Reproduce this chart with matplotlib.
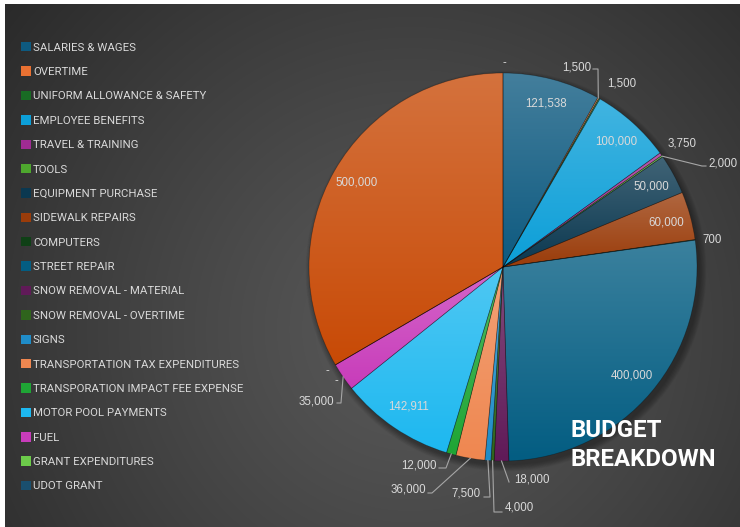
import numpy as np
import matplotlib.pyplot as plt
from matplotlib.colors import to_rgb
from matplotlib.patches import Circle

W, H = 740, 527

categories = ['SALARIES & WAGES', 'OVERTIME', 'UNIFORM ALLOWANCE & SAFETY',
              'EMPLOYEE BENEFITS', 'TRAVEL & TRAINING', 'TOOLS',
              'EQUIPMENT PURCHASE', 'SIDEWALK REPAIRS', 'COMPUTERS',
              'STREET REPAIR', 'SNOW REMOVAL - MATERIAL', 'SNOW REMOVAL - OVERTIME',
              'SIGNS', 'TRANSPORTATION TAX EXPENDITURES',
              'TRANSPORATION IMPACT FEE EXPENSE', 'MOTOR POOL PAYMENTS', 'FUEL',
              'GRANT EXPENDITURES', 'UDOT GRANT']
amounts = [121538, 1500, 1500, 100000, 3750, 2000, 50000, 60000, 700,
           400000, 18000, 4000, 7500, 36000, 12000, 142911, 35000, 0, 0]
# last two budget rows, not listed in the legend box
extra_amounts = [500000, 0]

slice_colors = ['#0E5A80', '#E97132', '#196B24', '#0C9FD8', '#A02B93', '#4EA72E',
                '#0B3850', '#9A3C0A', '#0F4016', '#035D82', '#601A58', '#2F641C',
                '#1F8CC8', '#EF8750', '#1FA535', '#1DB8F0', '#C83CBA', '#6CCB4A',
                '#1A4F6E', '#C84A06', '#C84A06']

values = amounts + extra_amounts
cx, cy, R = 503, H - 267, 194

fig = plt.figure(figsize=(7.4, 5.27), dpi=100)
fig.patch.set_facecolor('white')
ax = fig.add_axes([0, 0, 1, 1])

# dark radial backdrop
gx, gy = np.meshgrid(np.arange(5, W), np.arange(0, H - 4))
d = np.clip(np.hypot(gx - 410, gy - (H - 330)) / 520, 0, 1) ** 1.2
shade = (88 - 46 * d) / 255
ax.imshow(np.dstack([shade] * 3), extent=(5, W, 0, H - 4), origin='lower',
          zorder=0, interpolation='bilinear')

# soft shadow under the pie
for k in range(10):
    ax.add_patch(Circle((cx + 3, cy - 4), R + k * 0.7, color='black',
                        alpha=0.035, lw=0, zorder=1))

wedges, _ = ax.pie(values, startangle=90, counterclock=False, center=(cx, cy),
                   radius=R, colors=slice_colors,
                   wedgeprops=dict(edgecolor=(0, 0, 0, 0.3), linewidth=0.5))

leg = ax.legend(wedges[:len(categories)], categories, loc='upper left',
                bbox_to_anchor=(21 / W, 1 - 42 / H), bbox_transform=fig.transFigure,
                frameon=False, prop={'family': 'Roboto', 'size': 8.2},
                labelcolor='#D9D9D9', handlelength=0.9, handleheight=0.9,
                handletextpad=0.15, labelspacing=1.205, borderpad=0, borderaxespad=0)
for h in leg.legend_handles:
    h.set_edgecolor('none')

# vertical gradient inside every slice
t = np.linspace(0, 1, 64)[:, None]
for w, col, v in zip(wedges, slice_colors, values):
    w.set_zorder(3)
    if v == 0:
        continue
    base = np.array(to_rgb(col))
    grad = base * (1 - 0.22 * t[..., None]) + 0.22 * t[..., None]
    grad = np.repeat(grad, 2, axis=1)
    ext = w.get_path().get_extents()
    im = ax.imshow(grad, extent=(ext.x0, ext.x1, ext.y0, ext.y1), origin='lower',
                   aspect='auto', interpolation='bilinear', zorder=2)
    im.set_clip_path(w)
    w.set_facecolor('none')


def label_text(v):
    return '-' if v == 0 else f'{v:,}'


lab_font = {'family': 'Liberation Sans', 'size': 8.3, 'color': '#D9D9D9'}
inside = [0, 3, 6, 7, 9, 15, 19]
for i in inside:
    w = wedges[i]
    a = np.deg2rad((w.theta1 + w.theta2) / 2)
    ax.text(cx + 0.87 * R * np.cos(a), cy + 0.87 * R * np.sin(a), label_text(values[i]),
            ha='center', va='center', zorder=5, **lab_font)

# outside labels: text anchor (px from top), alignment, leader bends
outside = {
    1: (591, 68, 'right', [(598, 69), (593, 69)]),
    2: (622, 84, 'center', []),
    4: (682, 143, 'center', []),
    5: (708, 164, 'left', [(702, 166), (706, 166)]),
    8: (712, 240, 'center', []),
    10: (514, 479, 'left', [(509, 482)]),
    11: (505, 507, 'left', [(494, 512), (502, 512)]),
    12: (481, 493, 'right', [(490, 497), (484, 497)]),
    13: (426, 489, 'right', [(432, 493), (428, 493)]),
    14: (437, 465, 'right', [(446, 468), (439, 468)]),
    16: (334, 402, 'right', [(341, 403), (337, 403)]),
    17: (336, 381, 'center', []),
    18: (327, 371, 'center', []),
    20: (504, 63, 'center', []),
}
for i, (tx, ty, ha, bends) in outside.items():
    ax.text(tx, H - ty, label_text(values[i]), ha=ha, va='center', zorder=5, **lab_font)
    if bends:
        w = wedges[i]
        a = np.deg2rad((w.theta1 + w.theta2) / 2)
        xs = [cx + R * np.cos(a)] + [b[0] for b in bends]
        ys = [cy + R * np.sin(a)] + [H - b[1] for b in bends]
        ax.plot(xs, ys, color='#A6A6A6', lw=0.8, zorder=4)

ax.text(570, H - 419, 'BUDGET\nBREAKDOWN', ha='left', va='top', color='white',
        family='Roboto', fontweight='bold', fontsize=17.3, linespacing=1.32, zorder=6)

ax.set_xlim(0, W)
ax.set_ylim(0, H)
ax.set_aspect('auto')
ax.axis('off')

fig.savefig('out.png', dpi=100, facecolor=fig.get_facecolor())
